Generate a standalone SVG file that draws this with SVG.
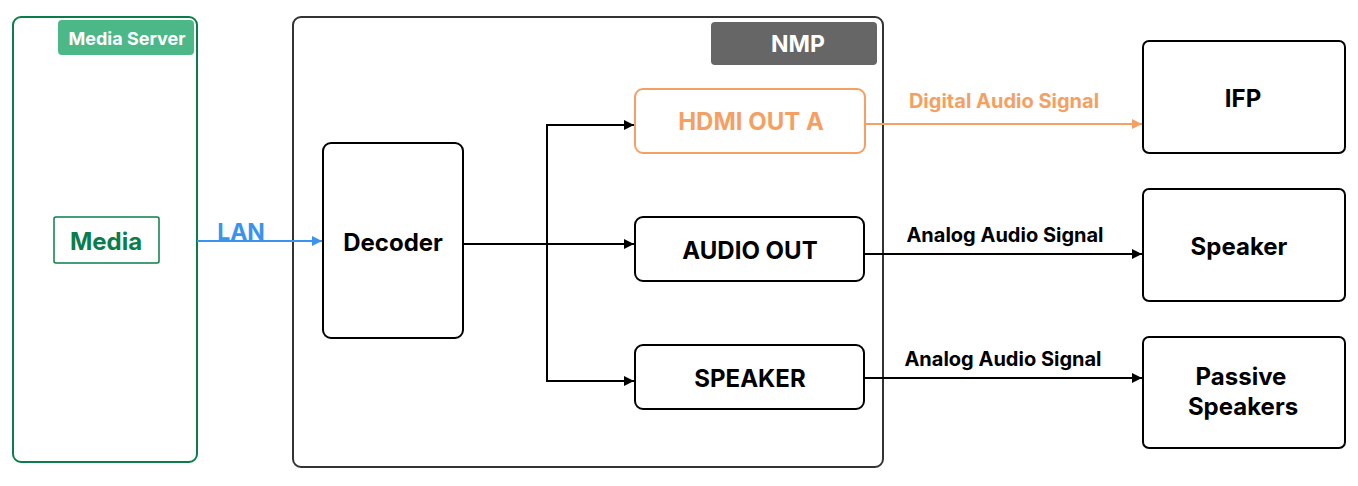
<svg xmlns="http://www.w3.org/2000/svg" width="1358" height="486" viewBox="0 0 1358 486">
<defs>
<style>
text{font-family:Inter,"Liberation Sans",sans-serif;font-weight:bold;text-anchor:middle;dominant-baseline:central}
.box{fill:#fff;stroke:#000;stroke-width:2}
.lbl{font-size:24px;fill:#000}
.sig{font-size:20px;fill:#000}
.k{fill:none;stroke:#000;stroke-width:2}
</style>
<marker id="ak" viewBox="0 0 10 10" refX="10" refY="5" markerWidth="10" markerHeight="10" markerUnits="userSpaceOnUse" orient="auto"><path d="M0,0L10,5L0,10z" fill="#000"/></marker>
<marker id="ao" viewBox="0 0 10 10" refX="10" refY="5" markerWidth="10" markerHeight="10" markerUnits="userSpaceOnUse" orient="auto"><path d="M0,0L10,5L0,10z" fill="#f5a062"/></marker>
<marker id="ab" viewBox="0 0 10 10" refX="10" refY="5" markerWidth="10" markerHeight="10" markerUnits="userSpaceOnUse" orient="auto"><path d="M0,0L10,5L0,10z" fill="#3b93f0"/></marker>
</defs>
<rect width="1358" height="486" fill="#fff"/>
<g id="media-server">
<rect x="13" y="17" width="184" height="445" rx="8" fill="none" stroke="#0a7d4a" stroke-width="2"/>
<rect x="58" y="20" width="136" height="35" rx="4" fill="#4db887"/>
<text x="127" y="38" font-size="18" fill="#fff">Media Server</text>
</g>
<g id="media">
<rect x="54" y="217" width="105" height="46" rx="2" fill="#fff" stroke="#0a7d4a" stroke-width="1.5"/>
<text x="106" y="241" font-size="24" fill="#0a7d4a">Media</text>
</g>
<g id="nmp">
<rect x="293" y="17" width="590" height="450" rx="8" fill="none" stroke="#333" stroke-width="2"/>
<rect x="711" y="22" width="166" height="43" rx="4" fill="#666"/>
<text x="798" y="44" font-size="23" fill="#fff">NMP</text>
</g>
<g id="decoder">
<rect class="box" x="323" y="143" width="140" height="195" rx="8"/>
<text class="lbl" x="393" y="242">Decoder</text>
</g>
<g id="hdmi">
<rect x="635" y="89" width="230" height="64" rx="8" fill="#fff" stroke="#f5a062" stroke-width="2"/>
<text x="751" y="121" font-size="24" fill="#f5a062">HDMI OUT A</text>
</g>
<g id="audio-out">
<rect class="box" x="635" y="217" width="229" height="64" rx="8"/>
<text class="lbl" x="750" y="250">AUDIO OUT</text>
</g>
<g id="speaker-out">
<rect class="box" x="635" y="345" width="229" height="64" rx="8"/>
<text class="lbl" x="750" y="378">SPEAKER</text>
</g>
<g id="ifp">
<rect class="box" x="1143" y="41" width="202" height="112" rx="6"/>
<text class="lbl" x="1243" y="98">IFP</text>
</g>
<g id="speaker">
<rect class="box" x="1143" y="189" width="202" height="112" rx="6"/>
<text class="lbl" x="1239" y="246">Speaker</text>
</g>
<g id="passive">
<rect class="box" x="1143" y="337" width="202" height="111" rx="6"/>
<text class="lbl" x="1241" y="376">Passive</text>
<text class="lbl" x="1243" y="406">Speakers</text>
</g>
<g id="connectors">
<line x1="197" y1="241" x2="322" y2="241" stroke="#3b93f0" stroke-width="2" marker-end="url(#ab)"/>
<text x="241" y="232" font-size="23" fill="#3b93f0">LAN</text>
<path class="k" d="M463,244H634" marker-end="url(#ak)"/>
<path class="k" d="M547,381V125H634" marker-end="url(#ak)"/>
<path class="k" d="M547,244V381H634" marker-end="url(#ak)"/>
<line x1="865" y1="124" x2="1142" y2="124" stroke="#f5a062" stroke-width="2" marker-end="url(#ao)"/>
<text x="1004" y="101" font-size="20" fill="#f5a062">Digital Audio Signal</text>
<path class="k" d="M864,254H1142" marker-end="url(#ak)"/>
<text class="sig" x="1005" y="235">Analog Audio Signal</text>
<path class="k" d="M864,378H1142" marker-end="url(#ak)"/>
<text class="sig" x="1003" y="359">Analog Audio Signal</text>
</g>
</svg>
